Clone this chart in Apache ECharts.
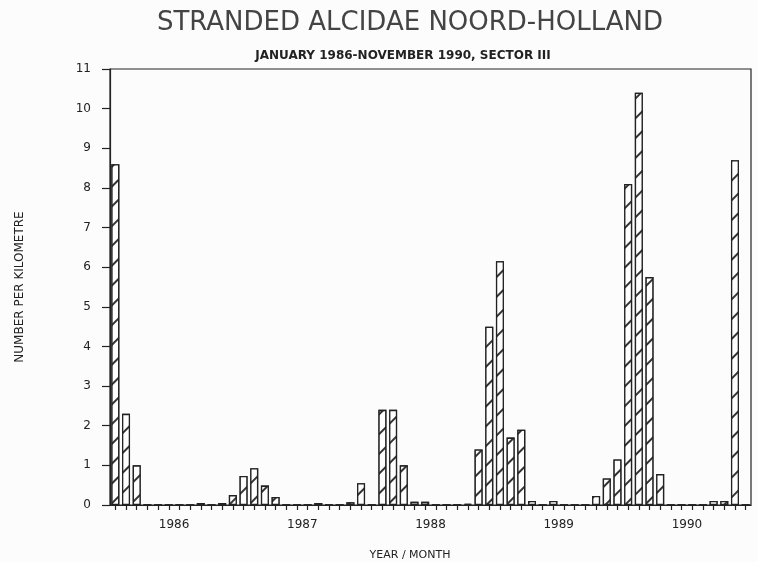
<!DOCTYPE html>
<html>
<head>
<meta charset="utf-8">
<script src="https://cdn.jsdelivr.net/npm/echarts@6/dist/echarts.min.js"></script>
<style>
  html, body { margin: 0; padding: 0; background: #fcfcfc; }
  #chart { width: 758px; height: 562px; }
</style>
</head>
<body>
<div id="chart"></div>
<script>
// stranded alcids per km, monthly, Jan 1986 .. Dec 1990 (Dec 1990 not counted)
var years = ['1986', '1987', '1988', '1989', '1990'];
var monthNames = ['J', 'F', 'M', 'A', 'M', 'J', 'J', 'A', 'S', 'O', 'N', 'D'];

var perKm1986 = [8.6, 2.3, 1.0, 0, 0, 0, 0, 0, 0.05, 0, 0.05, 0.25];
var perKm1987 = [0.73, 0.93, 0.49, 0.2, 0, 0, 0, 0.05, 0, 0, 0.07, 0.55];
var perKm1988 = [0, 2.4, 2.4, 1.0, 0.08, 0.08, 0, 0, 0, 0.03, 1.4, 4.5];
var perKm1989 = [6.15, 1.7, 1.9, 0.1, 0, 0.1, 0, 0, 0, 0.23, 0.67, 1.15];
var perKm1990 = [8.1, 10.4, 5.75, 0.78, 0, 0, 0, 0, 0.1, 0.1, 8.7, 0];

var yTicks = [0, 11, 1];

var months = [];
years.forEach(function (y) {
  monthNames.forEach(function (m) {
    months.push(m + ' ' + y);
  });
});
var values = [].concat(perKm1986, perKm1987, perKm1988, perKm1989, perKm1990);

var ink = '#222';
var font = 'DejaVu Sans';

var chartDom = document.getElementById('chart');
var chart = echarts.init(chartDom, null, { renderer: 'canvas' });

chart.setOption({
  backgroundColor: '#fcfcfc',
  animation: false,
  aria: { enabled: true, decal: { show: true } },
  title: [
    {
      text: 'STRANDED ALCIDAE NOORD-HOLLAND',
      left: 405,
      top: 5,
      textAlign: 'center',
      textStyle: { fontFamily: font, fontSize: 26, fontWeight: 'normal', color: '#444' }
    },
    {
      text: 'JANUARY 1986-NOVEMBER 1990, SECTOR III',
      left: 398,
      top: 45,
      textAlign: 'center',
      textStyle: { fontFamily: font, fontSize: 12, fontWeight: 'bold', color: ink }
    },
    {
      text: 'YEAR / MONTH',
      left: 405,
      top: 545,
      textAlign: 'center',
      textStyle: { fontFamily: font, fontSize: 11, fontWeight: 'normal', color: ink }
    }
  ],
  grid: {
    left: 110,
    right: 7,
    top: 69,
    bottom: 57,
    show: true,
    borderColor: ink,
    borderWidth: 1.2,
    backgroundColor: 'transparent'
  },
  xAxis: [
    {
      type: 'category',
      data: months,
      boundaryGap: true,
      axisLine: { show: true, lineStyle: { color: ink, width: 1.2 } },
      axisTick: { show: true, alignWithLabel: true, interval: 0, length: 5, lineStyle: { color: ink, width: 1.2 } },
      axisLabel: { show: false },
      splitLine: { show: false }
    },
    {
      type: 'category',
      data: years,
      position: 'bottom',
      boundaryGap: true,
      axisLine: { show: false },
      axisTick: { show: false },
      axisLabel: { margin: 14, fontFamily: font, fontSize: 12, color: ink },
      splitLine: { show: false }
    }
  ],
  yAxis: {
    type: 'value',
    min: yTicks[0],
    max: yTicks[1],
    interval: yTicks[2],
    name: 'NUMBER PER KILOMETRE',
    nameLocation: 'middle',
    nameGap: 84,
    nameTextStyle: { fontFamily: font, fontSize: 12, color: ink },
    axisLine: { show: true, lineStyle: { color: ink, width: 1.2 } },
    axisTick: { show: true, length: 8, lineStyle: { color: ink, width: 1.2 } },
    axisLabel: { margin: 19, fontFamily: font, fontSize: 12, color: ink },
    splitLine: { show: false }
  },
  series: [
    {
      name: 'Alcidae',
      type: 'bar',
      xAxisIndex: 0,
      data: values,
      barWidth: 8,
      itemStyle: {
        color: '#fff',
        borderColor: ink,
        borderWidth: 1.3,
        decal: {
          symbol: 'rect',
          symbolSize: 1,
          color: '#333',
          backgroundColor: '#fff',
          dashArrayX: [1, 0],
          dashArrayY: [1.2, 11.5],
          rotation: -Math.PI / 4
        }
      }
    }
  ]
});

window.onresize = function () {
  chart.resize();
};
</script>
</body>
</html>
